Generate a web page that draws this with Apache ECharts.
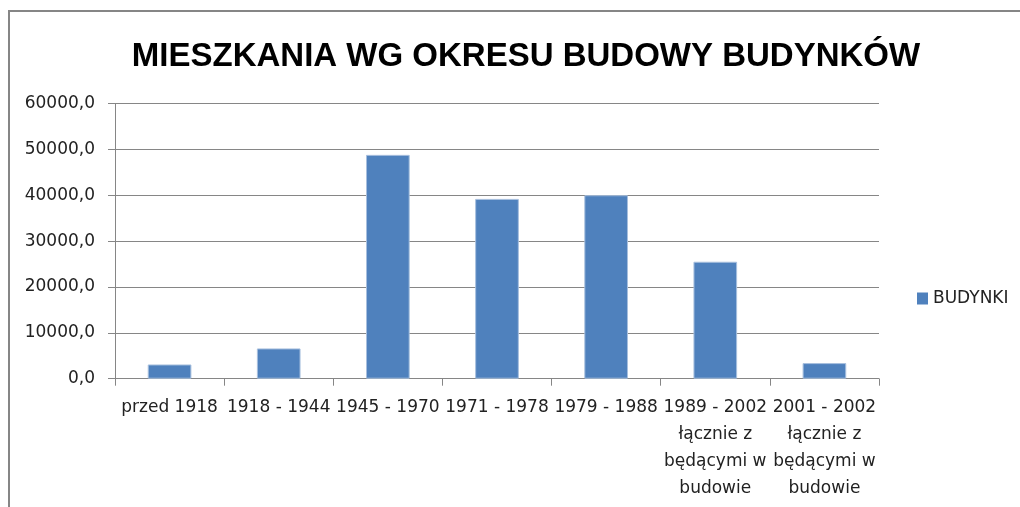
<!DOCTYPE html>
<html>
<head>
<meta charset="utf-8">
<script src="https://cdn.jsdelivr.net/npm/echarts@6/dist/echarts.min.js"></script>
<style>
  html, body { margin: 0; padding: 0; background: #fff; }
  #chart { width: 1020px; height: 507px; }
</style>
</head>
<body>
<div id="chart"></div>
<script>
// dane
const categories = [
  'przed 1918',
  '1918 - 1944',
  '1945 - 1970',
  '1971 - 1978',
  '1979 - 1988',
  '1989 - 2002\nłącznie z\nbędącymi w\nbudowie',
  '2001 - 2002\nłącznie z\nbędącymi w\nbudowie'
]
const budynki = [3100, 6600, 48800, 39200, 40000, 25500, 3400]
const yTicks = { min: 0, max: 60000, interval: 10000 }

const chart = echarts.init(document.getElementById('chart'))

const option = {
  backgroundColor: '#fff',
  animation: false,
  // ramka jak w oryginale (tylko góra i lewa krawędź widoczne)
  graphic: [
    {
      type: 'rect',
      shape: { x: 9, y: 11, width: 1100, height: 600 },
      style: { fill: 'none', stroke: '#868686', lineWidth: 2 },
      silent: true
    }
  ],
  title: {
    text: 'MIESZKANIA WG OKRESU BUDOWY BUDYNKÓW',
    left: 521,
    textAlign: 'center',
    top: 35,
    textStyle: {
      fontFamily: 'Liberation Sans',
      fontWeight: 'bold',
      fontSize: 33,
      color: '#000'
    }
  },
  legend: {
    data: ['BUDYNKI'],
    orient: 'vertical',
    left: 912,
    top: 285,
    itemWidth: 11,
    itemHeight: 12,
    itemGap: 6,
    icon: 'rect',
    itemStyle: { borderWidth: 0 },
    textStyle: {
      fontFamily: 'DejaVu Sans',
      fontSize: 17,
      color: '#222'
    }
  },
  grid: {
    left: 115,
    right: 141,
    top: 103.5,
    bottom: 128.3,
    containLabel: false
  },
  xAxis: {
    type: 'category',
    data: categories,
    boundaryGap: true,
    axisLine: { lineStyle: { color: '#868686', width: 1 } },
    axisTick: { show: true, length: 7, inside: false, lineStyle: { color: '#868686' } },
    axisLabel: {
      interval: 0,
      margin: 15,
      fontFamily: 'DejaVu Sans',
      fontSize: 17,
      lineHeight: 27,
      color: '#222',
      align: 'center'
    }
  },
  yAxis: {
    type: 'value',
    min: yTicks.min,
    max: yTicks.max,
    interval: yTicks.interval,
    axisLine: { show: true, lineStyle: { color: '#868686', width: 1 } },
    axisTick: { show: true, length: 7, lineStyle: { color: '#868686' } },
    splitLine: { show: true, lineStyle: { color: '#868686', width: 1 } },
    axisLabel: {
      margin: 20,
      fontFamily: 'DejaVu Sans',
      fontSize: 17,
      color: '#222',
      formatter: v => v.toFixed(1).replace('.', ',')
    }
  },
  series: [
    {
      name: 'BUDYNKI',
      type: 'bar',
      data: budynki,
      barCategoryGap: '60%',
      itemStyle: {
        color: '#4F81BD',
        borderColor: '#A7BFDE',
        borderWidth: 1
      }
    }
  ]
}

chart.setOption(option)
</script>
</body>
</html>
